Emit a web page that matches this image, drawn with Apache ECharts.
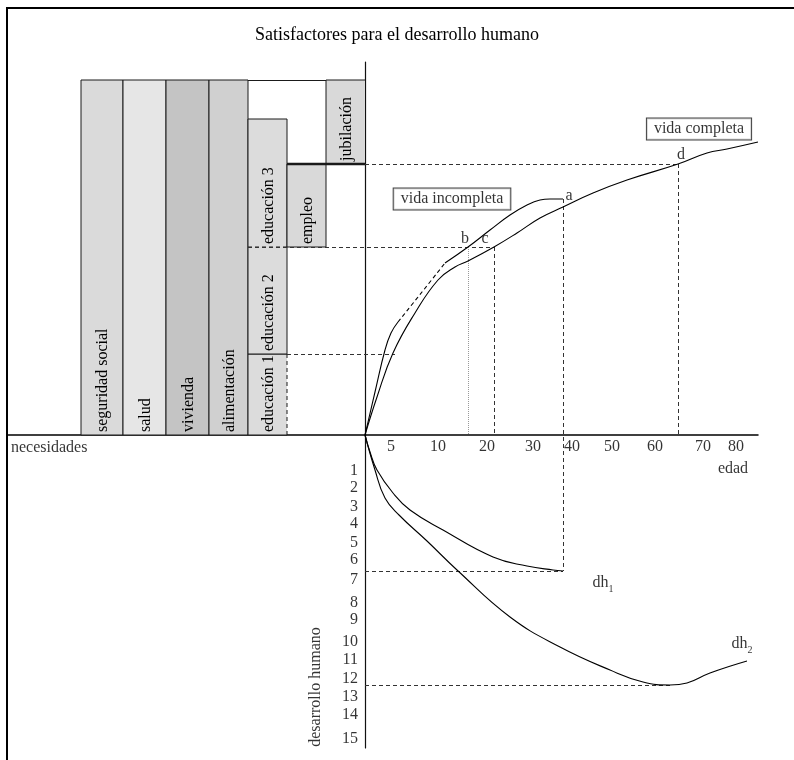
<!DOCTYPE html>
<html><head><meta charset="utf-8">
<script src="https://cdn.jsdelivr.net/npm/echarts@6/dist/echarts.min.js"></script>
<style>html,body{margin:0;padding:0;background:#fff}#c{width:794px;height:760px}</style>
</head><body><div id="c"></div>
<script>
// ---------- data (schematic units: horizontal = scale position, vertical = level) ----------
const titleText = 'Satisfactores para el desarrollo humano';

// needs / satisfiers boxes (upper-left quadrant)
const needCategories = ['seguridad social','salud','vivienda','alimentación','educación 1','educación 2','educación 3','empleo','jubilación'];
const needXStart = [-284,-242,-199,-156,-117,-117,-117,-78,-39];
const needXEnd   = [-242,-199,-156,-117,-78,-78,-78,-39,0];
const needYStart = [0,0,0,0,0,81,188,188,271];
const needYEnd   = [355,355,355,355,81,188,316,271,355];

// age axis tick labels (positions on the schematic axis)
const xTickPos    = [26,73,122,168,207,247,290,338,371];
const xTickLabels = ['5','10','20','30','40','50','60','70','80'];
// human development tick labels
const yTickPos    = [-36,-53,-72,-89,-108,-125,-145,-168,-185,-207,-225,-244,-262,-280,-304];
const yTickLabels = ['1','2','3','4','5','6','7','8','9','10','11','12','13','14','15'];

// curves (upper-right quadrant)
const vidaIncompletaInicio = [[0,0],[10,43],[20,85],[26,102],[33,113]];
const vidaIncompletaTramo  = [[33,113],[57,143],[80,172]];
const vidaIncompletaFin    = [[80,172],[103,188],[125,205],[145,220],[162,230],[175,235],[185,236],[198,236]];
const vidaCompleta = [[0,0],[12,38],[28,82],[50,122],[73,155],[90,168],[103,174],[129,188],[152,202],[175,217],[198,228],[228,242],[262,255],[313,271],[342,282],[362,286],[393,293]];
// curves (lower-right quadrant)
const dh1 = [[0,0],[5,-17],[12,-35],[28,-58],[45,-75],[78,-95],[128,-122],[162,-131],[188,-135],[198,-136]];
const dh2 = [[0,0],[10,-35],[20,-63],[34,-80],[62,-106],[92,-135],[145,-182],[195,-212],[245,-235],[278,-247],[305,-250],[322,-248],[345,-238],[382,-226]];

// named points taken from the curves
const ptA = vidaIncompletaFin[vidaIncompletaFin.length-1];
const ptB = vidaIncompletaFin[1];
const ptC = vidaCompleta[7];
const ptD = vidaCompleta[13];
const ptDh1 = dh1[dh1.length-1];
const ptDh2Min = dh2[10];
const ptDh2End = dh2[dh2.length-1];
const edu1Top = needYEnd[4];
const edu1Right = needXEnd[4];
const eduLeft = needXStart[4];

// ---------- styles ----------
const FONT = '"Liberation Serif", "Times New Roman", serif';
const TXT = '#000';
const boxFill = ['#dadada','#e6e6e6','#c4c4c4','#d0d0d0','#dcdcdc','#dcdcdc','#dcdcdc','#d9d9d9','#d9d9d9'];
const edgeOverrides = {4:{right:'dashed'},5:{top:'dashed'},6:{bottom:'dashed'},7:{top:'thick'},8:{bottom:'thick',right:'none'}};

const chart = echarts.init(document.getElementById('c'), null, {renderer:'canvas'});

function edge(kind, x1,y1,x2,y2){
  if (kind === 'none') return null;
  const style = {stroke:'#1a1a1a', lineWidth: kind==='thick' ? 2.5 : 1};
  if (kind === 'dashed') style.lineDash = [4,3];
  return {type:'line', shape:{x1,y1,x2,y2}, style};
}

const boxData = needCategories.map((n,i)=>({name:n, value:[needXStart[i],needXEnd[i],needYStart[i],needYEnd[i]]}));

const guideDashed = [
  [[eduLeft, ptC[1]],[ptC[0], ptC[1]]],
  [[ptC[0], ptC[1]],[ptC[0], 0]],
  [[edu1Right, edu1Top],[30, edu1Top]],
  [[0, ptD[1]],[ptD[0], ptD[1]]],
  [[ptD[0], ptD[1]],[ptD[0], 0]],
  [[ptA[0], ptA[1]],[ptA[0], ptDh1[1]]],
  [[0, ptDh1[1]],[ptDh1[0], ptDh1[1]]],
  [[0, ptDh2Min[1]],[ptDh2Min[0], ptDh2Min[1]]]
];
const guideDotted = [[[ptB[0], ptB[1]],[ptB[0], 0]]];
const outlineTop = [[[needXEnd[3], needYEnd[3]],[needXStart[8], needYEnd[8]]]];

function lineSeries(data, dashed, z){
  return {type:'line', data, showSymbol:false, smooth:0.45, silent:true, z: z||5,
    lineStyle:{color:'#000', width:1.1, type: dashed ? [4,3] : 'solid'}};
}

function textPoint(value, label){
  return {value, label: Object.assign({show:true, position:'inside', color:TXT, fontFamily:FONT, fontSize:16}, label)};
}

const annotations = [
  textPoint([87,236], {formatter:'vida incompleta', backgroundColor:'#fff', borderColor:'#111', borderWidth:1, padding:[3,7,2,7]}),
  textPoint([334,306], {formatter:'vida completa', backgroundColor:'#fff', borderColor:'#111', borderWidth:1, padding:[3,7,2,7]}),
  textPoint(ptA, {formatter:'a', offset:[6,-3]}),
  textPoint(ptB, {formatter:'b', offset:[-3,-8]}),
  textPoint(ptC, {formatter:'c', offset:[-9,-8]}),
  textPoint(ptD, {formatter:'d', offset:[3,-9]}),
  textPoint(ptDh1, {formatter:'dh{s|1}', offset:[40,12], rich:{s:{fontSize:10, fontFamily:FONT, color:TXT, verticalAlign:'bottom', lineHeight:22}}}),
  textPoint(ptDh2End, {formatter:'dh{s|2}', offset:[-5,-17], rich:{s:{fontSize:10, fontFamily:FONT, color:TXT, verticalAlign:'bottom', lineHeight:22}}}),
  textPoint([368,-34], {formatter:'edad'}),
  textPoint([-354,-13], {formatter:'necesidades', align:'left'}),
  textPoint([-49,-252], {formatter:'desarrollo humano', rotate:90})
];
// axis tick labels placed on the axes through the same scales
const xTickItems = xTickPos.map((p,i)=>textPoint([p,0], {formatter:xTickLabels[i], offset:[0,12]}));
const yTickItems = yTickPos.map((p,i)=>textPoint([0,p], {formatter:yTickLabels[i], align:'right', offset:[-7,0]}));

const option = {
  animation:false,
  backgroundColor:'#fff',
  title:{text:titleText, left:'center', top:21, textStyle:{fontFamily:FONT, fontSize:18, fontWeight:'normal', color:TXT}},
  graphic:[{type:'polyline', shape:{points:[[7,790],[7,8],[800,8]]}, style:{stroke:'#000', lineWidth:2, fill:null}, z:10}],
  grid:{left:7, right:36, top:62, bottom:12, containLabel:false, outerBoundsMode:'none'},
  xAxis:{type:'value', min:-358, max:393, splitLine:{show:false}, axisTick:{show:false}, axisLabel:{show:false},
    axisLine:{onZero:true, lineStyle:{color:'#000', width:1.5}}},
  yAxis:{type:'value', min:-313, max:373, splitLine:{show:false}, axisTick:{show:false}, axisLabel:{show:false},
    axisLine:{onZero:true, lineStyle:{color:'#111', width:1.2}}},
  series:[
    {type:'custom', name:'necesidades', coordinateSystem:'cartesian2d', data:boxData, encode:{x:[0,1], y:[2,3]}, z:2, silent:true,
      renderItem(params, api){
        const i = params.dataIndex;
        const tl = api.coord([api.value(0), api.value(3)]);
        const br = api.coord([api.value(1), api.value(2)]);
        const L=tl[0], T=tl[1], R=br[0], B=br[1];
        const st = Object.assign({top:'solid',bottom:'solid',left:'solid',right:'solid'}, edgeOverrides[i]||{});
        const ch = [
          {type:'rect', shape:{x:L,y:T,width:R-L,height:B-T}, style:{fill:boxFill[i]}},
          edge(st.left, L,T,L,B), edge(st.right, R,T,R,B), edge(st.bottom, L,B,R,B), edge(st.top, L,T,R,T),
          {type:'text', x:(L+R)/2+1, y:B-3, rotation:Math.PI/2,
            style:{text:needCategories[i], font:'16px "Liberation Serif"', fill:TXT, align:'left', verticalAlign:'middle'}}
        ].filter(Boolean);
        return {type:'group', children:ch};
      }},
    {type:'lines', coordinateSystem:'cartesian2d', data:outlineTop.map(c=>({coords:c})), z:3, silent:true,
      lineStyle:{color:'#1a1a1a', width:1, type:'solid', opacity:1}},
    {type:'lines', coordinateSystem:'cartesian2d', data:guideDashed.map(c=>({coords:c})), z:3, silent:true,
      lineStyle:{color:'#333', width:1, type:[4,3], opacity:1}},
    {type:'lines', coordinateSystem:'cartesian2d', data:guideDotted.map(c=>({coords:c})), z:3, silent:true,
      lineStyle:{color:'#999', width:1, type:[1,1], opacity:1}},
    lineSeries(vidaIncompletaInicio, false),
    lineSeries(vidaIncompletaTramo, true),
    lineSeries(vidaIncompletaFin, false),
    lineSeries(vidaCompleta, false),
    lineSeries(dh1, false),
    lineSeries(dh2, false),
    {type:'scatter', data:annotations.concat(xTickItems, yTickItems), symbolSize:1, itemStyle:{color:'rgba(0,0,0,0)'}, z:8, silent:true}
  ]
};
chart.setOption(option);
</script></body></html>
